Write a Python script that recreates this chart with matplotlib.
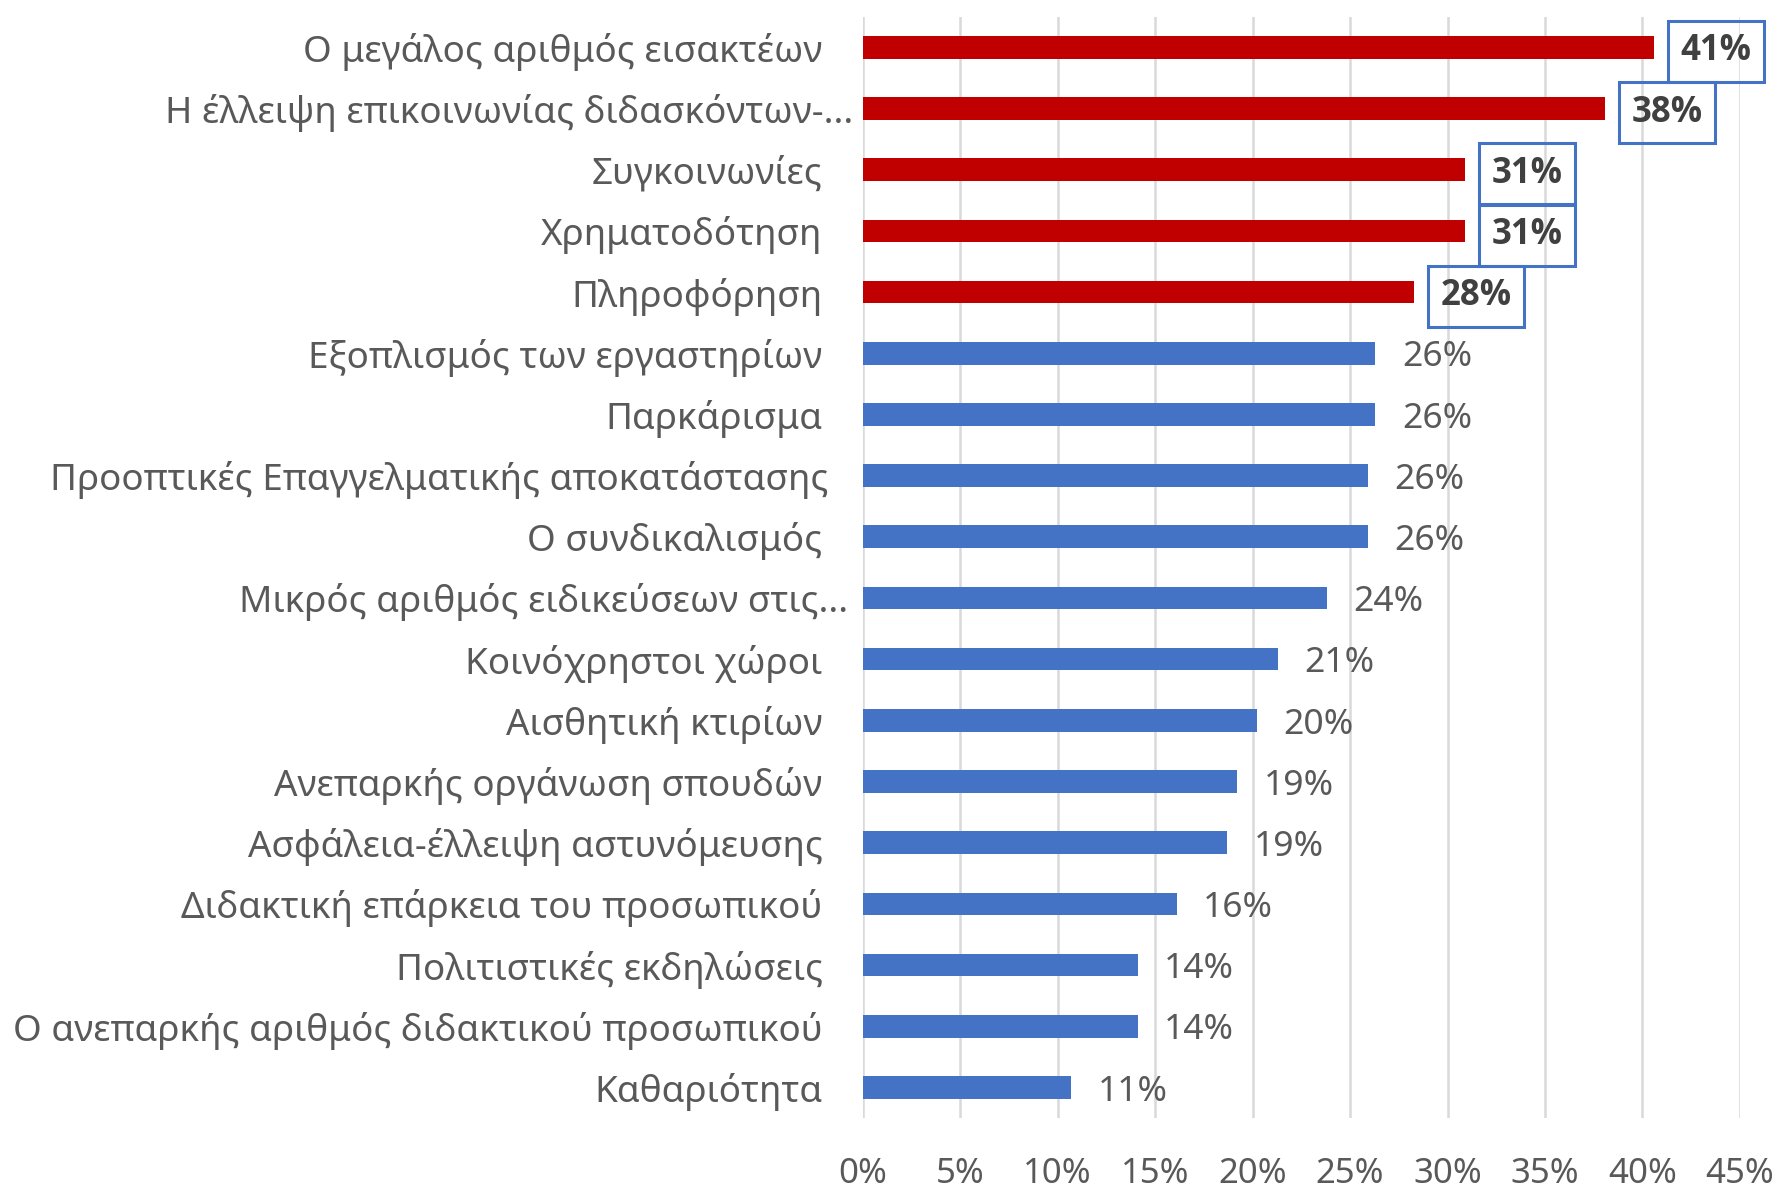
import numpy as np
import matplotlib
matplotlib.use('Agg')
import matplotlib.pyplot as plt
from matplotlib.transforms import ScaledTranslation

# 問題項目と割合(%)
labels = [
    'Ο μεγάλος αριθμός εισακτέων',
    'Η έλλειψη επικοινωνίας διδασκόντων-...',
    'Συγκοινωνίες',
    'Χρηματοδότηση',
    'Πληροφόρηση',
    'Εξοπλισμός των εργαστηρίων',
    'Παρκάρισμα',
    'Προοπτικές Επαγγελματικής αποκατάστασης',
    'Ο συνδικαλισμός',
    'Μικρός αριθμός ειδικεύσεων στις...',
    'Κοινόχρηστοι χώροι',
    'Αισθητική κτιρίων',
    'Ανεπαρκής οργάνωση σπουδών',
    'Ασφάλεια-έλλειψη αστυνόμευσης',
    'Διδακτική επάρκεια του προσωπικού',
    'Πολιτιστικές εκδηλώσεις',
    'Ο ανεπαρκής αριθμός διδακτικού προσωπικού',
    'Καθαριότητα',
]
values = [40.6, 38.1, 30.9, 30.9, 28.3, 26.3, 26.3, 25.9, 25.9, 23.8,
          21.3, 20.2, 19.2, 18.7, 16.1, 14.1, 14.1, 10.7]
highlight = [True] * 5 + [False] * 13
xticks = [0, 5, 10, 15, 20, 25, 30, 35, 40, 45]

RED = '#C00000'
BLUE = '#4472C4'
TEXT = '#595959'
GRID = '#D9D9D9'

plt.rcParams['font.family'] = ['Noto Sans', 'DejaVu Sans']

fig = plt.figure(figsize=(17.79, 11.92), dpi=100)
ax = fig.add_axes([0.485, 0.062, 0.493, 0.924])

y = np.arange(len(labels))
colors = [RED if h else BLUE for h in highlight]
ax.barh(y, values, height=0.37, color=colors, zorder=3)

ax.set_ylim(len(labels) - 0.5, -0.5)
ax.set_xlim(0, 45)
ax.set_xticks(xticks)
ax.set_xticklabels([f'{t}%' for t in xticks])
ax.set_yticks(y)
ax.set_yticklabels(labels)

ax.tick_params(axis='y', length=0, pad=29, labelsize=26.5, labelcolor=TEXT)
ax.tick_params(axis='x', length=0, pad=28, labelsize=25, labelcolor=TEXT)

# 省略記号付きのラベルは右にはみ出す
shift = {1: 31, 7: 6, 9: 26}
for i, lab in enumerate(ax.get_yticklabels()):
    if i in shift:
        lab.set_transform(lab.get_transform() + ScaledTranslation(shift[i] / 100, 0, fig.dpi_scale_trans))

ax.grid(True, axis='x', color=GRID, linewidth=1.8, zorder=0)
for s in ['top', 'right', 'bottom', 'left']:
    ax.spines[s].set_visible(False)

# データラベル
for yi, v, h in zip(y, values, highlight):
    txt = f'{v:.0f}%'
    if h:
        ax.annotate(txt, xy=(v, yi), xytext=(19, -3), textcoords='offset points',
                    va='center', ha='left', fontsize=25, fontweight='bold', color='#404040',
                    family=['Open Sans', 'DejaVu Sans'],
                    bbox=dict(boxstyle='square,pad=0.36', fc='none', ec=BLUE, lw=2.2),
                    zorder=4)
    else:
        ax.annotate(txt, xy=(v, yi), xytext=(19, -3), textcoords='offset points',
                    va='center', ha='left', fontsize=25.5, color=TEXT, zorder=4)

fig.savefig('out.png', dpi=100)
